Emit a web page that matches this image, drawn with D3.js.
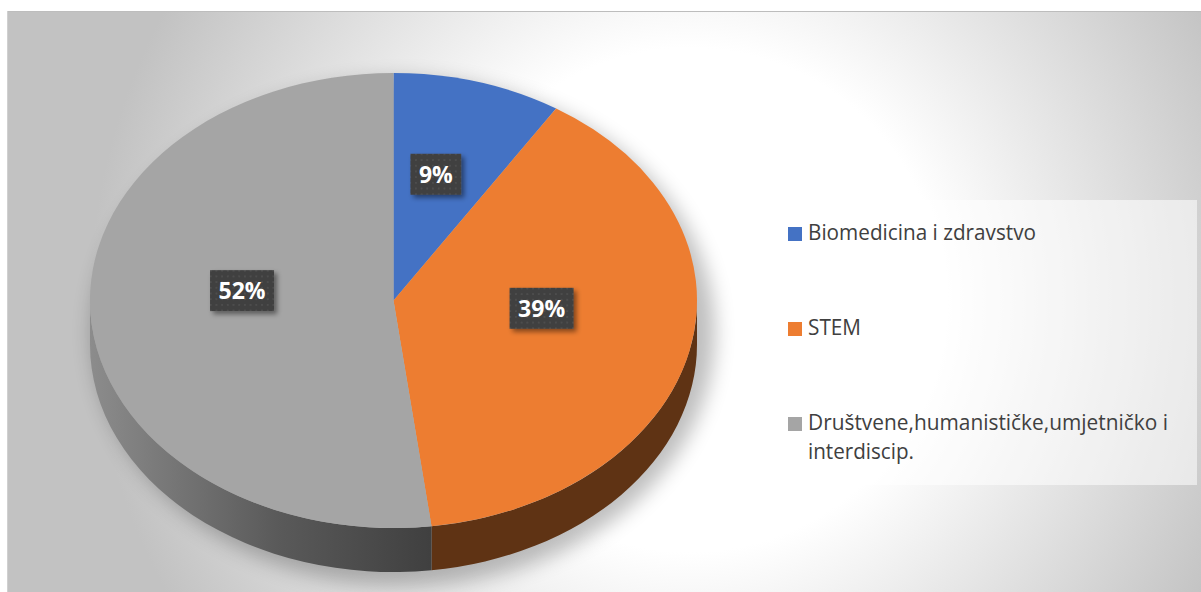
<!DOCTYPE html>
<html>
<head>
<meta charset="utf-8">
<script src="https://cdn.jsdelivr.net/npm/d3@7"></script>
<style>
  html, body { margin: 0; padding: 0; background: #fff; }
  svg { display: block; }
</style>
</head>
<body>
<svg id="chart" width="1201" height="592"></svg>
<script>
// ---- data ----
const categories = ["Biomedicina i zdravstvo", "STEM", "Društvene,humanističke,umjetničko i interdiscip."];
const values = [9, 39, 52];
const valueLabels = ["9%", "39%", "52%"];
const legendLines = [["Biomedicina i zdravstvo"], ["STEM"], ["Društvene,humanističke,umjetničko i", "interdiscip."]];

// ---- styles ----
const topColors = ["#4472c4", "#ed7d31", "#a5a5a5"];
const sideColors = ["#2a4a80", "#5f3314", "url(#graySide)"];

const svg = d3.select("#chart");
const W = 1201, H = 592;
const defs = svg.append("defs");

// background gradient
const bg = defs.append("radialGradient").attr("id", "bgGrad")
  .attr("gradientUnits", "userSpaceOnUse")
  .attr("cx", 690).attr("cy", 300).attr("r", 600);
bg.append("stop").attr("offset", 0).attr("stop-color", "#ffffff");
bg.append("stop").attr("offset", 0.42).attr("stop-color", "#ffffff");
bg.append("stop").attr("offset", 1).attr("stop-color", "#c2c2c2");

const gs = defs.append("linearGradient").attr("id", "graySide")
  .attr("gradientUnits", "userSpaceOnUse")
  .attr("x1", 90).attr("y1", 0).attr("x2", 430).attr("y2", 0);
gs.append("stop").attr("offset", 0).attr("stop-color", "#8c8c8c");
gs.append("stop").attr("offset", 0.55).attr("stop-color", "#5a5a5a");
gs.append("stop").attr("offset", 1).attr("stop-color", "#404040");

const blur = defs.append("filter").attr("id", "pieShadow")
  .attr("x", "-20%").attr("y", "-20%").attr("width", "140%").attr("height", "140%");
blur.append("feGaussianBlur").attr("stdDeviation", 10);

const boxShadow = defs.append("filter").attr("id", "boxShadow")
  .attr("x", "-30%").attr("y", "-30%").attr("width", "170%").attr("height", "170%");
boxShadow.append("feDropShadow").attr("dx", 3).attr("dy", 3).attr("stdDeviation", 2.5)
  .attr("flood-color", "#000").attr("flood-opacity", 0.45);

const pat = defs.append("pattern").attr("id", "dots")
  .attr("patternUnits", "userSpaceOnUse").attr("width", 5.7).attr("height", 5.7);
pat.append("rect").attr("width", 5.7).attr("height", 5.7).attr("fill", "#404040");
pat.append("circle").attr("cx", 2.85).attr("cy", 2.85).attr("r", 0.9).attr("fill", "#525252");

// chart area background
svg.append("rect").attr("x", 0).attr("y", 0).attr("width", W).attr("height", H).attr("fill", "#fff");
svg.append("rect").attr("x", 7).attr("y", 11).attr("width", W - 7).attr("height", H - 11)
  .attr("fill", "url(#bgGrad)");
svg.append("line").attr("x1", 7).attr("x2", W).attr("y1", 11.5).attr("y2", 11.5)
  .attr("stroke", "#bdbdbd").attr("stroke-width", 1);
svg.append("line").attr("x1", 7.5).attr("x2", 7.5).attr("y1", 11).attr("y2", H)
  .attr("stroke", "#d0d0d0").attr("stroke-width", 1);

// ---- 3D pie geometry ----
const cx = 393.5, cy = 300.5, rx = 303.5, ry = 227.5, depth = 44;
const pt = (a, dy = 0) => [cx + rx * Math.sin(a), cy - ry * Math.cos(a) + dy];

const pie = d3.pie().sort(null).value(d => d)(values);

// soft shadow under pie
svg.append("ellipse")
  .attr("cx", cx + 10).attr("cy", cy + depth / 2 + 10)
  .attr("rx", rx + 8).attr("ry", ry + depth / 2 + 4)
  .attr("fill", "#000").attr("opacity", 0.25)
  .attr("filter", "url(#pieShadow)");

const gPie = svg.append("g");

function sidePath(a0, a1) {
  const s0 = Math.max(a0, Math.PI / 2), s1 = Math.min(a1, 3 * Math.PI / 2);
  if (s0 >= s1) return null;
  const p0 = pt(s0), p1 = pt(s1), q1 = pt(s1, depth), q0 = pt(s0, depth);
  const large = (s1 - s0) > Math.PI ? 1 : 0;
  return `M${p0[0]},${p0[1]} A${rx},${ry} 0 ${large} 1 ${p1[0]},${p1[1]} L${q1[0]},${q1[1]} A${rx},${ry} 0 ${large} 0 ${q0[0]},${q0[1]} Z`;
}
function topPath(a0, a1) {
  const p0 = pt(a0), p1 = pt(a1);
  const large = (a1 - a0) > Math.PI ? 1 : 0;
  return `M${cx},${cy} L${p0[0]},${p0[1]} A${rx},${ry} 0 ${large} 1 ${p1[0]},${p1[1]} Z`;
}

pie.forEach((d, i) => {
  const p = sidePath(d.startAngle, d.endAngle);
  if (p) gPie.append("path").attr("d", p).attr("fill", sideColors[i]);
});
pie.forEach((d, i) => {
  gPie.append("path").attr("d", topPath(d.startAngle, d.endAngle)).attr("fill", topColors[i]);
});

// ---- data labels ----
const gLab = svg.append("g");
pie.forEach((d, i) => {
  const mid = (d.startAngle + d.endAngle) / 2;
  const x = cx + rx * 0.5 * Math.sin(mid);
  const y = cy - ry * 0.5 * Math.cos(mid) - 17;
  const g = gLab.append("g").attr("transform", `translate(${x},${y})`);
  const t = g.append("text").text(valueLabels[i])
    .attr("text-anchor", "middle").attr("y", 8.5)
    .attr("font-family", "'Open Sans', 'Noto Sans', sans-serif")
    .attr("font-weight", 700).attr("font-size", 23).attr("fill", "#fff");
  const w = t.node().getComputedTextLength() + 17;
  const h = 41;
  g.insert("rect", "text").attr("x", -w / 2).attr("y", -h / 2).attr("width", w).attr("height", h)
    .attr("fill", "url(#dots)").attr("filter", "url(#boxShadow)");
});

// ---- legend ----
svg.append("rect").attr("x", 759).attr("y", 200).attr("width", 438).attr("height", 285)
  .attr("fill", "#fff").attr("opacity", 0.55);

const legendY = [240, 335, 430];
const lineWidths = [[228], [53], [360, 106]];
const gLeg = svg.append("g");
categories.forEach((c, i) => {
  gLeg.append("rect").attr("x", 788).attr("y", legendY[i] - 13).attr("width", 14).attr("height", 14)
    .attr("fill", topColors[i]);
  legendLines[i].forEach((ln, j) => {
    gLeg.append("text").text(ln)
      .attr("x", 808).attr("y", legendY[i] + j * 28.5)
      .attr("font-family", "'Open Sans', 'Noto Sans', sans-serif")
      .attr("font-size", 21).attr("fill", "#404040")
      .attr("textLength", lineWidths[i][j]).attr("lengthAdjust", "spacingAndGlyphs");
  });
});
</script>
</body>
</html>
